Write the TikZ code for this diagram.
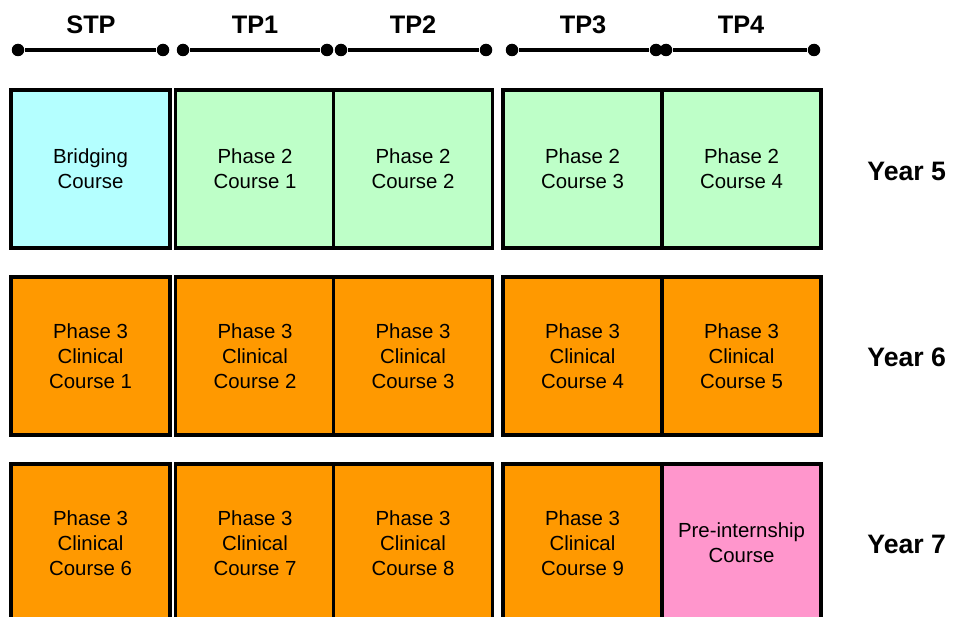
\documentclass[tikz,border=0pt]{standalone}
\usepackage{fontspec}
\setmainfont{Liberation Sans}
\usetikzlibrary{positioning}

\definecolor{bridgecyan}{RGB}{180,255,255}
\definecolor{phasegreen}{RGB}{190,255,200}
\definecolor{clinorange}{RGB}{255,153,0}
\definecolor{internpink}{RGB}{255,150,204}

\tikzset{every picture/.style={line width=0.75pt}}

\begin{document}
\begin{tikzpicture}[x=0.75pt,y=-0.75pt,
		course/.style={shape=rectangle, draw, line width=2.3pt, align=center,
			minimum width=159*0.75pt, minimum height=158*0.75pt, inner sep=0pt,
			font=\fontsize{15.3}{18.75}\selectfont, text=black},
		term/.style={font=\bfseries\fontsize{19}{22}\selectfont},
		year/.style={font=\bfseries\fontsize{20}{24}\selectfont, anchor=east},
		tick/.style={fill=black, circle, inner sep=0pt, minimum size=12.5*0.75pt},
		span/.style={line width=2.8pt}
	]
	\useasboundingbox (0,0) rectangle (954,617);
	\clip (0,0) rectangle (954,617);
	% year 5
	\node[course, fill=bridgecyan] (b1) at (90.5,169) {Bridging\\Course};
	\node[course, fill=phasegreen] (p21) at (255,169) {Phase 2\\Course 1};
	\node[course, fill=phasegreen] (p22) at (413,169) {Phase 2\\Course 2};
	\node[course, fill=phasegreen] (p23) at (582.5,169) {Phase 2\\Course 3};
	\node[course, fill=phasegreen] (p24) at (741.5,169) {Phase 2\\Course 4};
	% year 6
	\node[course, fill=clinorange] (c1) at (90.5,356) {Phase 3\\Clinical\\Course 1};
	\node[course, fill=clinorange] (c2) at (255,356) {Phase 3\\Clinical\\Course 2};
	\node[course, fill=clinorange] (c3) at (413,356) {Phase 3\\Clinical\\Course 3};
	\node[course, fill=clinorange] (c4) at (582.5,356) {Phase 3\\Clinical\\Course 4};
	\node[course, fill=clinorange] (c5) at (741.5,356) {Phase 3\\Clinical\\Course 5};
	% year 7
	\node[course, fill=clinorange] (c6) at (90.5,543) {Phase 3\\Clinical\\Course 6};
	\node[course, fill=clinorange] (c7) at (255,543) {Phase 3\\Clinical\\Course 7};
	\node[course, fill=clinorange] (c8) at (413,543) {Phase 3\\Clinical\\Course 8};
	\node[course, fill=clinorange] (c9) at (582.5,543) {Phase 3\\Clinical\\Course 9};
	\node[course, fill=internpink] (pi) at (741.5,543) {Pre-internship\\Course};
	% years
	\node[year] (y5) at (951,171) {Year 5};
	\node[year] (y6) at (951,357) {Year 6};
	\node[year] (y7) at (951,544) {Year 7};
	% terms
	\node[tick] (s0) at (18,50) {};
	\node[tick] (s1) at (163,50) {};
	\node[tick] (t10) at (183,50) {};
	\node[tick] (t11) at (327,50) {};
	\node[tick] (t20) at (341,50) {};
	\node[tick] (t21) at (486,50) {};
	\node[tick] (t30) at (512,50) {};
	\node[tick] (t31) at (656,50) {};
	\node[tick] (t40) at (666,50) {};
	\node[tick] (t41) at (814,50) {};
	\draw[span] (s0) -- (s1);
	\draw[span] (t10) -- (t11);
	\draw[span] (t20) -- (t21);
	\draw[span] (t30) -- (t31);
	\draw[span] (t40) -- (t41);
	\node[term] (stp) at (91,25) {STP};
	\node[term] (tp1) at (255,25) {TP1};
	\node[term] (tp2) at (413,25) {TP2};
	\node[term] (tp3) at (583,25) {TP3};
	\node[term] (tp4) at (741,25) {TP4};
\end{tikzpicture}
\end{document}
